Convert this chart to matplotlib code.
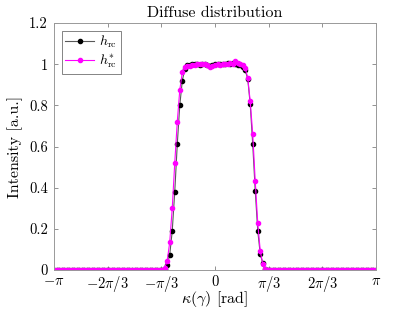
import numpy as np
import matplotlib
matplotlib.use('Agg')
import matplotlib.pyplot as plt

plt.ioff()

# values, index -64 .. 64 on a 129 point grid
n_pts = 129
zero_tail = [0.0] * 44

h_rc_core = [
    0.004, 0.024, 0.073, 0.19, 0.38, 0.61, 0.80, 0.92, 0.975, 0.995,
    0.998, 1.0, 1.002, 1.0, 0.997, 1.001, 1.0, 0.996, 0.99, 0.995,
    1.0, 1.002, 1.0, 0.999, 1.003, 1.004, 1.0, 1.006, 1.002, 0.998,
    0.994, 0.985, 0.97, 0.93, 0.805, 0.61, 0.384, 0.19, 0.076, 0.034,
    0.005]

h_rc_star_core = [
    0.01, 0.045, 0.135, 0.30, 0.52, 0.72, 0.875, 0.96, 0.985, 0.99,
    0.99, 0.995, 0.998, 1.0, 1.002, 1.0, 1.003, 0.995, 0.985, 0.99,
    0.998, 1.0, 0.998, 1.0, 1.003, 1.002, 1.005, 1.0, 1.017, 1.005,
    1.0, 0.995, 0.98, 0.935, 0.82, 0.66, 0.43, 0.227, 0.092, 0.028,
    0.005]

h_rc = zero_tail + h_rc_core + zero_tail
h_rc_star = zero_tail + h_rc_star_core + zero_tail

x_ticks_lbls = [r'$-\pi$', r'$-2\pi/3$', r'$-\pi/3$', r'$0$',
                r'$\pi/3$', r'$2\pi/3$', r'$\pi$']
y_ticks_lbls = ['0', '0.2', '0.4', '0.6', '0.8', '1', '1.2']


def main():

    plt.rcParams['font.family'] = 'serif'
    plt.rcParams['font.serif'] = ['cmr10']
    plt.rcParams['mathtext.fontset'] = 'cm'
    plt.rcParams['axes.unicode_minus'] = False

    kappa = np.linspace(-np.pi, np.pi, n_pts)

    fig = plt.figure(figsize=(4.15, 3.12), dpi=100)
    ax = fig.add_axes([54 / 415, 42 / 312, 322 / 415, 247 / 312])

    ax.plot(kappa, h_rc, color='0.35', lw=0.8, marker='o', ms=3.0,
            mfc='k', mec='k', label=r'$h_{\rm rc}$')
    ax.plot(kappa, h_rc_star, color='#ff00ff', lw=0.8, marker='o', ms=3.0,
            mfc='#ff00ff', mec='#ff00ff', label=r'$h_{\rm rc}^{*}$')

    ax.set_xlim(-np.pi, np.pi)
    ax.set_ylim(0, 1.2)

    ax.set_xticks(np.linspace(-np.pi, np.pi, 7))
    ax.set_xticklabels(x_ticks_lbls)
    ax.set_yticks(np.linspace(0, 1.2, 7))
    ax.set_yticklabels(y_ticks_lbls)

    ax.tick_params(direction='in', top=True, right=True, length=3,
                   width=0.6, color='0.5', labelsize=10.5)
    ax.tick_params(axis='x', pad=3)
    ax.tick_params(axis='y', pad=4.5)
    for sp in ax.spines.values():
        sp.set_color('0.6')
        sp.set_linewidth(0.7)

    ax.set_xlabel(r'$\kappa(\gamma)$ [rad]', fontsize=11.5)
    ax.xaxis.set_label_coords(0.5, -0.078)
    ax.set_ylabel('Intensity [a.u.]', fontsize=11.5, labelpad=4)
    ax.set_title('Diffuse distribution', fontsize=11.5, pad=4)

    leg = ax.legend(loc='upper left', fontsize=10, handlelength=2.1,
                    fancybox=False, borderpad=0.25, labelspacing=0.15,
                    handletextpad=0.35, borderaxespad=0.55)
    leg.get_frame().set_edgecolor('0.3')
    leg.get_frame().set_linewidth(0.6)

    fig.savefig('out.png', dpi=100)
    plt.close()
    return


if __name__ == '__main__':
    main()
